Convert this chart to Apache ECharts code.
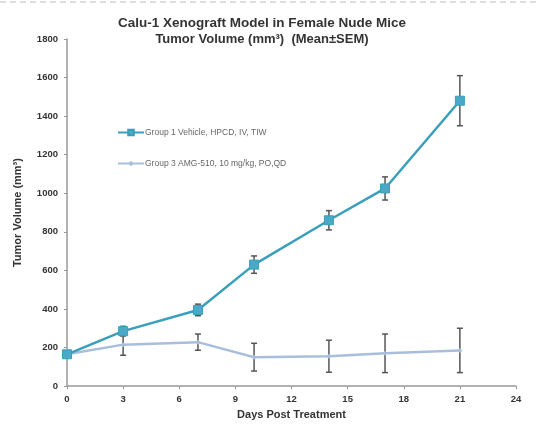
<!DOCTYPE html>
<html>
<head>
<meta charset="utf-8">
<script src="https://cdn.jsdelivr.net/npm/echarts@6/dist/echarts.min.js"></script>
<style>
  html, body { margin: 0; padding: 0; background: #fff; }
  #chart { width: 540px; height: 425px; }
</style>
</head>
<body>
<div id="chart"></div>
<script>
// days post treatment
const days = [0, 3, 7, 10, 14, 17, 21];
// Group 1 vehicle: mean and SEM
const group1Mean = [165, 285, 395, 630, 860, 1025, 1480];
const group1Sem = [15, 25, 30, 45, 50, 60, 130];
// Group 3 AMG-510: mean and SEM
const group3Mean = [165, 215, 228, 150, 155, 170, 185];
const group3Sem = [15, 55, 42, 72, 83, 100, 115];

const seriesNames = ['Group 1 Vehicle, HPCD, IV, TIW', 'Group 3 AMG-510, 10 mg/kg, PO,QD'];

const g1Color = '#3a9fba';
const g3Color = '#a9bedd';
const errColor = '#555';

function errData(mean, sem) {
  return days.map((d, i) => [d, mean[i] - sem[i], mean[i] + sem[i]]);
}

function renderErr(params, api) {
  const x = api.value(0);
  const lo = api.coord([x, api.value(1)]);
  const hi = api.coord([x, api.value(2)]);
  const cap = 3;
  const style = { stroke: errColor, lineWidth: 1.5 };
  return {
    type: 'group',
    children: [
      { type: 'line', shape: { x1: lo[0], y1: lo[1], x2: hi[0], y2: hi[1] }, style },
      { type: 'line', shape: { x1: lo[0] - cap, y1: lo[1], x2: lo[0] + cap, y2: lo[1] }, style },
      { type: 'line', shape: { x1: hi[0] - cap, y1: hi[1], x2: hi[0] + cap, y2: hi[1] }, style }
    ]
  };
}

const chart = echarts.init(document.getElementById('chart'));
chart.setOption({
  animation: false,
  backgroundColor: '#fff',
  textStyle: { fontFamily: 'Liberation Sans, Arial, sans-serif' },
  graphic: [
    {
      type: 'line',
      shape: { x1: 0, y1: 2, x2: 540, y2: 2 },
      style: { stroke: '#bbb', lineWidth: 1, lineDash: [6, 4] }
    }
  ],
  title: {
    text: 'Calu-1 Xenograft Model in Female Nude Mice',
    subtext: 'Tumor Volume (mm³)  (Mean±SEM)',
    left: 257,
    textAlign: 'center',
    top: 11,
    itemGap: 3,
    textStyle: { fontSize: 13.5, fontWeight: 'bold', color: '#333' },
    subtextStyle: { fontSize: 13, fontWeight: 'bold', color: '#333' }
  },
  legend: {
    orient: 'vertical',
    left: 112,
    top: 123,
    itemGap: 22,
    itemWidth: 26,
    itemHeight: 7,
    data: seriesNames,
    textStyle: { fontSize: 8.5, color: '#666', padding: [0, 0, 0, -4] }
  },
  grid: { left: 67, right: 24, top: 39, bottom: 37 },
  xAxis: {
    type: 'value',
    min: 0,
    max: 24,
    interval: 3,
    name: 'Days Post Treatment',
    nameLocation: 'middle',
    nameGap: 22,
    nameTextStyle: { fontSize: 11, fontWeight: 'bold', color: '#333' },
    axisLine: { lineStyle: { color: '#999', width: 1.5 } },
    axisTick: { show: true, length: 3, lineStyle: { color: '#999' } },
    axisLabel: { fontSize: 9.5, fontWeight: 'bold', color: '#333', margin: 8 },
    splitLine: { show: false }
  },
  yAxis: {
    type: 'value',
    min: 0,
    max: 1800,
    interval: 200,
    name: 'Tumor Volume (mm³)',
    nameLocation: 'middle',
    nameGap: 44,
    nameTextStyle: { fontSize: 11, fontWeight: 'bold', color: '#333' },
    axisLine: { show: true, lineStyle: { color: '#999', width: 1.5 } },
    axisTick: { show: true, length: 3, lineStyle: { color: '#999' } },
    axisLabel: { fontSize: 9.5, fontWeight: 'bold', color: '#333', margin: 9, formatter: v => String(v) },
    splitLine: { show: false }
  },
  series: [
    {
      type: 'custom',
      renderItem: renderErr,
      data: errData(group3Mean, group3Sem),
      encode: { x: 0, y: [1, 2] },
      z: 1,
      silent: true
    },
    {
      name: seriesNames[1],
      type: 'line',
      data: days.map((d, i) => [d, group3Mean[i]]),
      color: g3Color,
      lineStyle: { width: 2.5, color: g3Color },
      symbol: 'diamond',
      symbolSize: 5,
      itemStyle: { color: g3Color },
      z: 2
    },
    {
      type: 'custom',
      renderItem: renderErr,
      data: errData(group1Mean, group1Sem),
      encode: { x: 0, y: [1, 2] },
      z: 3,
      silent: true
    },
    {
      name: seriesNames[0],
      type: 'line',
      data: days.map((d, i) => [d, group1Mean[i]]),
      color: g1Color,
      lineStyle: { width: 2.5, color: g1Color },
      symbol: 'rect',
      symbolSize: 9,
      itemStyle: { color: '#4aa9c6', borderColor: g1Color, borderWidth: 1 },
      z: 4
    }
  ]
});
</script>
</body>
</html>
